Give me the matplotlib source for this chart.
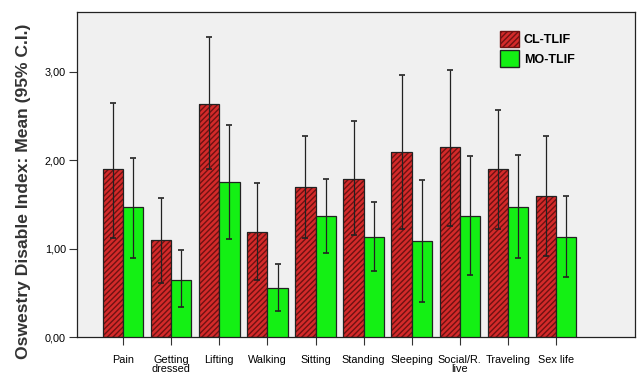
import numpy as np
import matplotlib
matplotlib.use("Agg")
import matplotlib.pyplot as plt
from matplotlib.patches import Patch
from matplotlib.ticker import FuncFormatter

plt.rcParams['font.family'] = ['Liberation Sans', 'DejaVu Sans']

categories = ["Pain", "Getting\ndressed", "Lifting", "Walking", "Sitting",
              "Standing", "Sleeping", "Social/R.\nlive", "Traveling", "Sex life"]

cl_mean = [1.90, 1.10, 2.64, 1.19, 1.70, 1.79, 2.09, 2.15, 1.90, 1.60]
cl_hi = [2.65, 1.57, 3.40, 1.74, 2.27, 2.44, 2.97, 3.02, 2.57, 2.27]
cl_lo = [1.12, 0.61, 1.90, 0.65, 1.12, 1.155, 1.22, 1.26, 1.22, 0.92]

mo_mean = [1.47, 0.65, 1.755, 0.56, 1.37, 1.13, 1.09, 1.37, 1.47, 1.13]
mo_hi = [2.03, 0.99, 2.40, 0.83, 1.79, 1.53, 1.78, 2.05, 2.06, 1.60]
mo_lo = [0.90, 0.34, 1.11, 0.29, 0.95, 0.75, 0.40, 0.70, 0.89, 0.68]

red = '#d42a2a'
red_hatch = '#6e1212'
green = '#14f014'

fig = plt.figure(figsize=(6.38, 3.72), dpi=100)
ax = fig.add_axes([0.1207, 0.094, 0.8743, 0.874])
ax.set_facecolor('#f0f0f0')

x = np.arange(len(categories))
w = 0.42

# red bars: fill + hatch, then black outline on top
ax.bar(x - w / 2, cl_mean, w, color=red, edgecolor=red_hatch, hatch='//////', linewidth=0, zorder=2)
ax.bar(x - w / 2, cl_mean, w, fill=False, edgecolor='#222222', linewidth=0.9, zorder=3)
ax.bar(x + w / 2, mo_mean, w, color=green, edgecolor='#222222', linewidth=0.9, zorder=3)

cl_err = [np.array(cl_mean) - np.array(cl_lo), np.array(cl_hi) - np.array(cl_mean)]
mo_err = [np.array(mo_mean) - np.array(mo_lo), np.array(mo_hi) - np.array(mo_mean)]
ax.errorbar(x - w / 2, cl_mean, yerr=cl_err, fmt='none', ecolor='#222222',
            elinewidth=0.9, capsize=2.5, capthick=1.2, zorder=4)
ax.errorbar(x + w / 2, mo_mean, yerr=mo_err, fmt='none', ecolor='#222222',
            elinewidth=0.9, capsize=2.5, capthick=1.2, zorder=4)

ax.set_xlim(-0.96, 10.64)
ax.set_ylim(0, 3.68)
ax.set_yticks([0, 1, 2, 3])
ax.yaxis.set_major_formatter(FuncFormatter(lambda v, p: f"{v:.2f}".replace('.', ',')))
ax.set_xticks(x)
ax.set_xticklabels(categories, fontsize=7.8, linespacing=0.85)
ax.tick_params(axis='y', labelsize=7.8, length=6, width=0.8, colors='#333333', pad=2)
ax.tick_params(axis='x', length=6, width=0.8, colors='#333333', pad=7)
for lab in ax.get_xticklabels() + ax.get_yticklabels():
    lab.set_color('black')

for s in ['top', 'left', 'right', 'bottom']:
    ax.spines[s].set_color('#222222')
    ax.spines[s].set_linewidth(0.9)

ax.set_ylabel("Oswestry Disable Index: Mean (95% C.I.)", fontsize=12.6, fontweight='bold',
              color='#333333')
ax.yaxis.set_label_coords(-0.083, 0.447)

handles = [Patch(facecolor=red, edgecolor=red_hatch, hatch='//////', label='CL-TLIF'),
           Patch(facecolor=green, edgecolor='#222222', label='MO-TLIF')]
leg = ax.legend(handles=handles, loc='upper left', bbox_to_anchor=(0.738, 0.975), frameon=False,
                handlelength=1.5, handleheight=1.6, handletextpad=0.4, labelspacing=0.25,
                prop={'weight': 'bold', 'size': 9})

fig.savefig('out.png', dpi=100)
